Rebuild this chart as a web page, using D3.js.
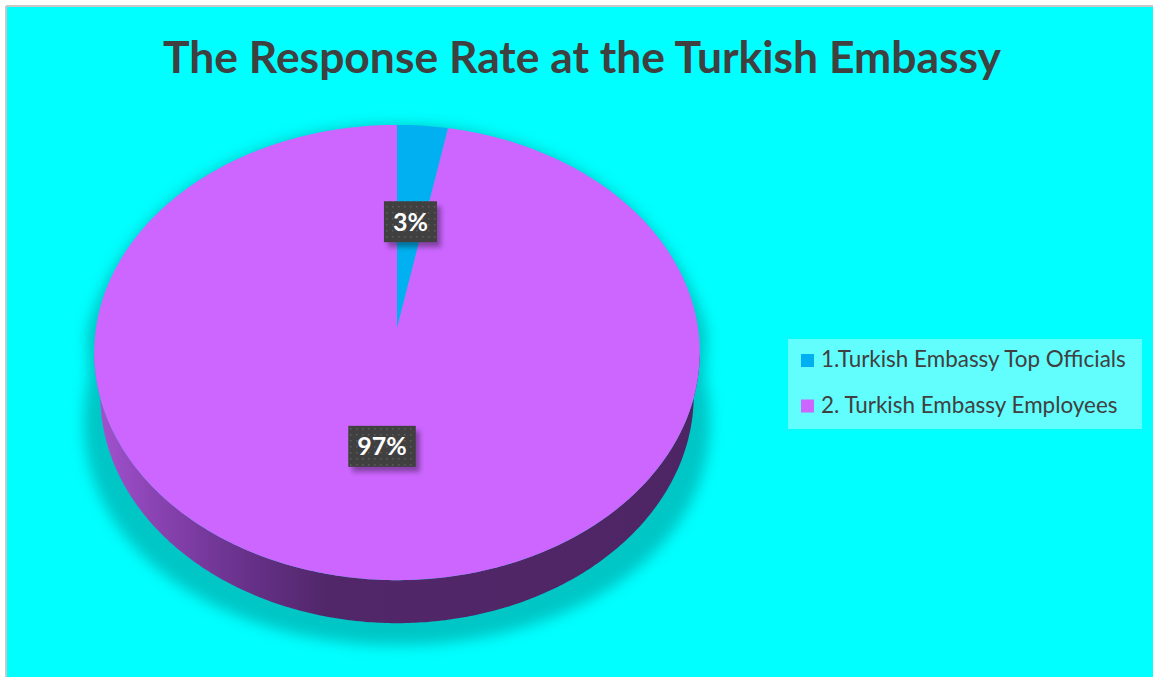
<!DOCTYPE html>
<html>
<head>
<meta charset="utf-8">
<script src="https://cdn.jsdelivr.net/npm/d3@7"></script>
<style>
  html, body { margin: 0; padding: 0; background: #fff; }
  svg { display: block; }
</style>
</head>
<body>
<div id="chart"></div>
<script>
// data
var categories = ["1.Turkish Embassy Top Officials", "2. Turkish Embassy Employees"];
var values = [3, 97];
var labels = ["3%", "97%"];
var colors = ["#00B0F0", "#CC66FF"];
var chartTitle = "The Response Rate at the Turkish Embassy";

var W = 1153, H = 677;
var svg = d3.select("#chart").append("svg").attr("width", W).attr("height", H);
var defs = svg.append("defs");

// chart area + border (only top / left visible)
svg.append("rect").attr("x", 6).attr("y", 6).attr("width", W).attr("height", H).attr("fill", "#00FFFF");
svg.append("line").attr("x1", 6).attr("y1", 6).attr("x2", W).attr("y2", 6).attr("stroke", "#c8c8c8").attr("stroke-width", 2);
svg.append("line").attr("x1", 6).attr("y1", 6).attr("x2", 6).attr("y2", H).attr("stroke", "#c8c8c8").attr("stroke-width", 2);

// perspective disc projection
var cx = 397, cy = 328, f = 301, g = 225, k = 0.1077, depth = 43;
function proj(a, r, dy, sx) {
  var u = r * Math.sin(a), v = -r * Math.cos(a), w = 1 - k * v;
  return [cx + (sx || 1) * f * u / w, cy + g * v / w + (dy || 0)];
}
function arcPts(a0, a1, dy, sx) {
  var n = Math.max(2, Math.ceil(Math.abs(a1 - a0) / 0.01)), pts = [];
  for (var i = 0; i <= n; i++) pts.push(proj(a0 + (a1 - a0) * i / n, 1, dy, sx));
  return pts;
}
var line = d3.line();

var pie = d3.pie().sort(null).value(function (d) { return d; });
var arcs = pie(values);

// shadow
var sh = defs.append("filter").attr("id", "pieShadow").attr("x", "-20%").attr("y", "-20%").attr("width", "140%").attr("height", "140%");
sh.append("feGaussianBlur").attr("stdDeviation", 7);
var outline = arcPts(Math.PI / 2, Math.PI * 1.5, depth, 0.98)
  .concat(arcPts(Math.PI * 1.5, Math.PI * 2.5, 0, 1));
var shadowPts = outline.map(function (p) {
  var t = Math.max(0, (p[1] - 240) / 380);
  return [cx + (p[0] - cx) * (1 + 0.13 * t), p[1] + 22 * t];
});
svg.append("path").attr("d", line(shadowPts) + "Z")
  .attr("fill", "#00c6c6").attr("filter", "url(#pieShadow)");

// side gradient
var sg = defs.append("linearGradient").attr("id", "sideGrad")
  .attr("gradientUnits", "userSpaceOnUse").attr("x1", 95).attr("x2", 700).attr("y1", 0).attr("y2", 0);
[[0, "#a353d0"], [0.1, "#8a43b2"], [0.25, "#67318a"], [0.38, "#52276a"], [1, "#4e2564"]].forEach(function (s) {
  sg.append("stop").attr("offset", s[0]).attr("stop-color", s[1]);
});

// sides, front part only
var aR = Math.acos(-k), aL = 2 * Math.PI - aR;
arcs.forEach(function (d, i) {
  var a0 = Math.max(d.startAngle, aR), a1 = Math.min(d.endAngle, aL);
  if (a1 <= a0) return;
  var pts = arcPts(a0, a1, 0, 1).concat(arcPts(a1, a0, depth, 0.98));
  svg.append("path").attr("d", line(pts) + "Z")
    .attr("fill", i === 1 ? "url(#sideGrad)" : d3.color(colors[i]).darker(1.2));
});

// top face
svg.selectAll("path.slice").data(arcs).enter().append("path")
  .attr("class", "slice")
  .attr("d", function (d) { return line([[cx, cy]].concat(arcPts(d.startAngle, d.endAngle, 0, 1))) + "Z"; })
  .attr("fill", function (d, i) { return colors[i]; });

// data labels
var pat = defs.append("pattern").attr("id", "dots").attr("patternUnits", "userSpaceOnUse")
  .attr("width", 6).attr("height", 6);
pat.append("rect").attr("width", 6).attr("height", 6).attr("fill", "#404040");
pat.append("rect").attr("x", 2).attr("y", 2).attr("width", 1.5).attr("height", 1.5).attr("fill", "#5c5c5c");
var lf = defs.append("filter").attr("id", "lblShadow").attr("x", "-30%").attr("y", "-30%").attr("width", "160%").attr("height", "160%");
lf.append("feGaussianBlur").attr("stdDeviation", 2.5);

arcs.forEach(function (d, i) {
  var p = proj((d.startAngle + d.endAngle) / 2, 0.5, 0, 1);
  var gl = svg.append("g");
  var t = gl.append("text").attr("x", p[0]).attr("y", p[1] + 9)
    .attr("text-anchor", "middle").attr("fill", "#fff")
    .style("font-family", "Lato, 'Open Sans', sans-serif").style("font-weight", "bold").style("font-size", "25px")
    .text(labels[i]);
  var bw = t.node().getComputedTextLength() + 18, bh = 41;
  gl.insert("rect", "text").attr("x", p[0] - bw / 2 + 4).attr("y", p[1] - bh / 2 + 5)
    .attr("width", bw).attr("height", bh).attr("fill", "#000").attr("opacity", 0.35).attr("filter", "url(#lblShadow)");
  gl.insert("rect", "text").attr("x", p[0] - bw / 2).attr("y", p[1] - bh / 2)
    .attr("width", bw).attr("height", bh).attr("fill", "url(#dots)");
});

// title
function fit(sel, target) {
  var s = parseFloat(sel.style("font-size"));
  var w = sel.node().getComputedTextLength();
  sel.style("font-size", (s * target / w) + "px");
}
var title = svg.append("text").attr("x", 582).attr("y", 73).attr("text-anchor", "middle")
  .attr("fill", "#404040")
  .style("font-family", "Lato, 'Open Sans', sans-serif").style("font-weight", "bold").style("font-size", "44px")
  .text(chartTitle);
fit(title, 838);

// legend
svg.append("rect").attr("x", 788).attr("y", 339).attr("width", 354).attr("height", 90).attr("fill", "#62fdfd");
var leg = svg.selectAll("g.leg").data(categories).enter().append("g").attr("class", "leg")
  .attr("transform", function (d, i) { return "translate(801," + (354 + i * 45.5) + ")"; });
leg.append("rect").attr("width", 13).attr("height", 13).attr("fill", function (d, i) { return colors[i]; });
var lt = leg.append("text").attr("x", 20).attr("y", 13).attr("fill", "#404040")
  .style("font-family", "Lato, 'Open Sans', sans-serif").style("font-size", "19px")
  .text(function (d) { return d; });
fit(d3.select(lt.nodes()[0]), 305);
d3.select(lt.nodes()[1]).style("font-size", d3.select(lt.nodes()[0]).style("font-size"));
</script>
</body>
</html>
